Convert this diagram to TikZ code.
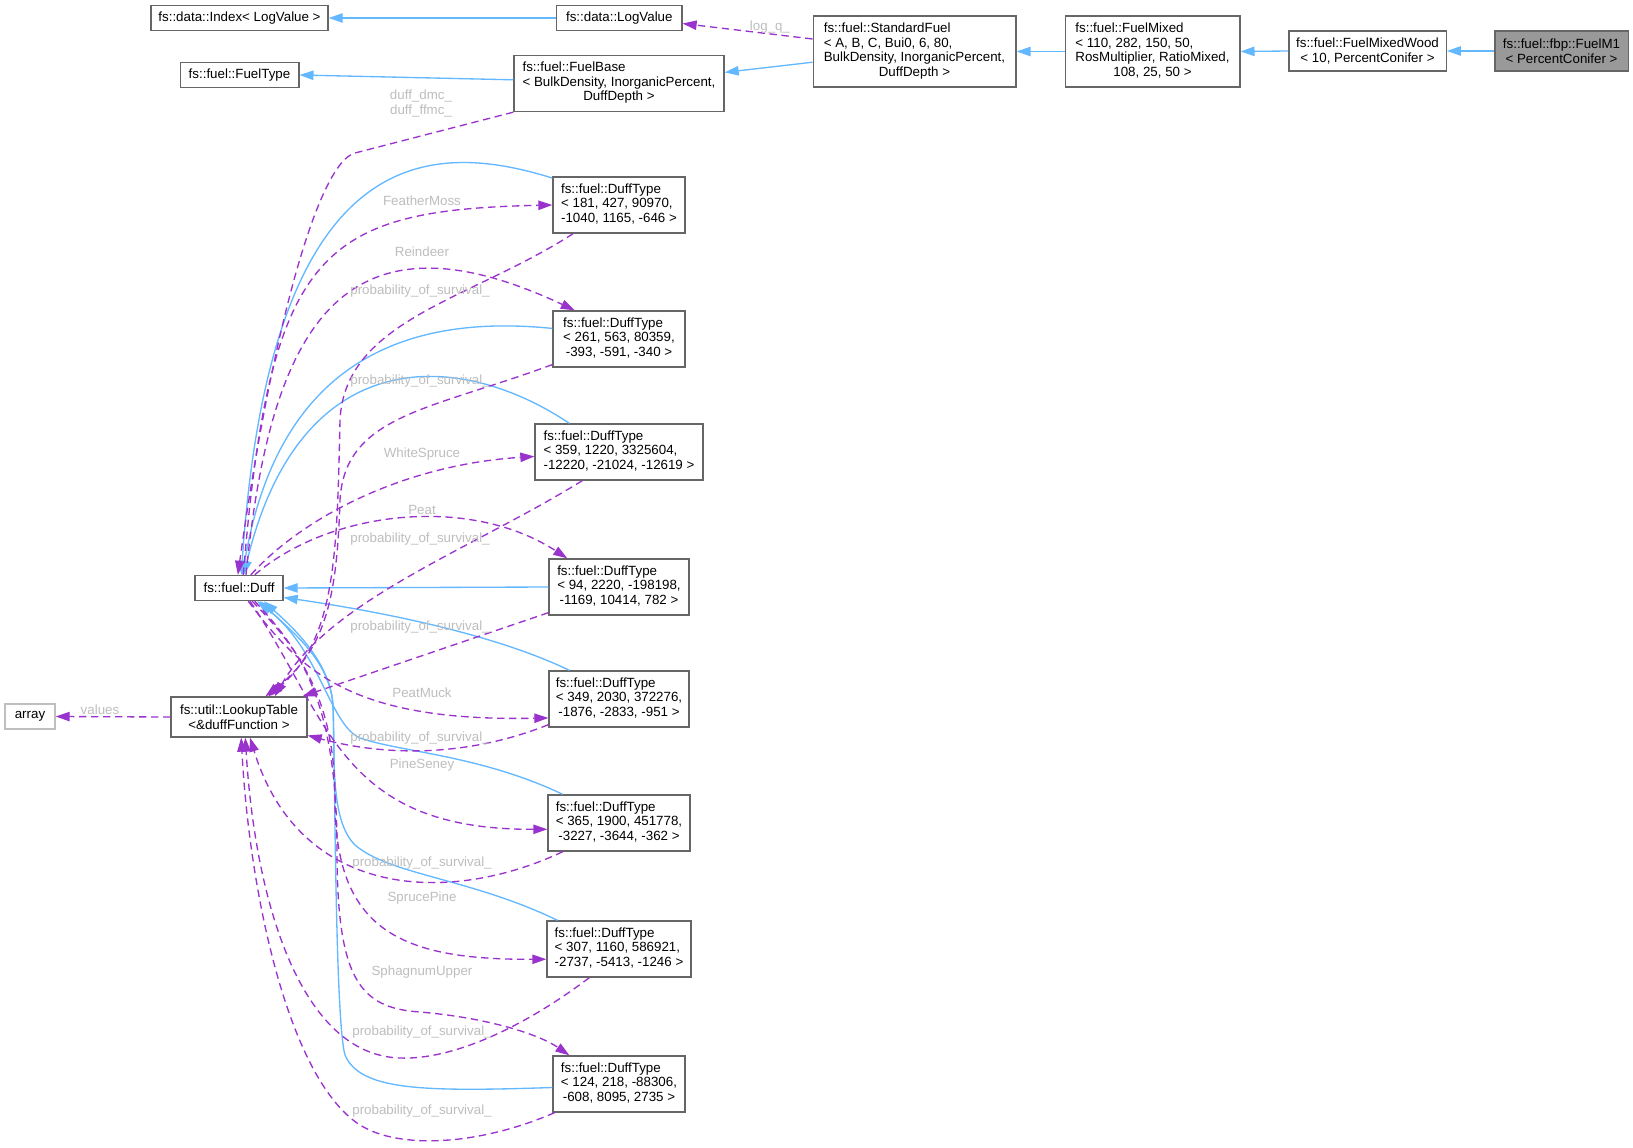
\documentclass[tikz,border=0pt]{standalone}
\usepackage{fontspec}
\setmainfont{Liberation Sans}
\usetikzlibrary{arrows.meta}

\definecolor{edgeblue}{HTML}{63B8FF}
\definecolor{edgepurple}{HTML}{9A32CD}
\definecolor{boxgrey}{HTML}{666666}
\definecolor{labelgrey}{HTML}{BEBEBE}
\definecolor{curgrey}{HTML}{999999}
\definecolor{extgrey}{HTML}{BFBFBF}

\newcommand{\classtext}[1]{\begin{tabular}{@{}l@{}}#1\end{tabular}}
\newcommand{\cln}[1]{\multicolumn{1}{@{}c@{}}{#1}}

\begin{document}
\begin{tikzpicture}[%
    x=0.75pt, y=-0.75pt,
    >={Triangle[length=10.5pt,width=7pt]},
    font=\fontsize{10}{10.9}\selectfont,
    cls/.style={draw=boxgrey, line width=1pt, fill=white, align=center,
      inner xsep=5pt, inner ysep=1pt, minimum height=18.75pt},
    h2/.style={minimum height=30pt},
    h3/.style={minimum height=42pt},
    h4/.style={minimum height=53.25pt},
    inherit/.style={->, edgeblue, line width=1pt},
    member/.style={->, edgepurple, line width=1pt, dash pattern=on 5.5pt off 3.5pt},
    lbl/.style={text=labelgrey, inner sep=0pt}
  ]
  \fill[white] (0,0) rectangle (1633,1148);
  \useasboundingbox (0,0) rectangle (1633,1148);

  % classes
  \node[cls,minimum width=132.75pt] (idx) at (239.5,18) {fs::data::Index< LogValue >};
  \node[cls,minimum width=94pt] (logv) at (619.3,18) {fs::data::LogValue};
  \node[cls,minimum width=89pt] (ftype) at (239.5,75) {fs::fuel::FuelType};
  \node[cls,h3,minimum width=157.5pt] (fbase) at (619,83.5)
    {\classtext{fs::fuel::FuelBase\\< BulkDensity, InorganicPercent,\\\cln{DuffDepth >}}};
  \node[cls,h4,minimum width=152pt] (stdf) at (914.5,51.5)
    {\classtext{fs::fuel::StandardFuel\\< A, B, C, Bui0, 6, 80,\\\cln{BulkDensity, InorganicPercent,}\\\cln{DuffDepth >}}};
  \node[cls,h4,minimum width=131pt] (fmix) at (1152.5,51.5)
    {\classtext{fs::fuel::FuelMixed\\< 110, 282, 150, 50,\\\cln{RosMultiplier, RatioMixed,}\\\cln{108, 25, 50 >}}};
  \node[cls,h2,minimum width=118pt] (fmw) at (1367.5,51) {fs::fuel::FuelMixedWood\\< 10, PercentConifer >};
  \node[cls,h2,minimum width=100pt,fill=curgrey] (fm1) at (1561.5,51) {fs::fuel::fbp::FuelM1\\< PercentConifer >};
  \node[cls,minimum width=66pt] (duff) at (239,588) {fs::fuel::Duff};
  \node[cls,h2,minimum width=102pt] (lut) at (239,717) {fs::util::LookupTable\\<\&duffFunction >};
  \node[cls,minimum width=37.5pt,draw=extgrey] (arr) at (30,716.5) {array};

  \node[cls,h3,minimum width=99pt] (dt1) at (619,205)
    {\classtext{fs::fuel::DuffType\\< 181, 427, 90970,\\\cln{-1040, 1165, -646 >}}};
  \node[cls,h3,minimum width=99pt] (dt2) at (619,339)
    {\classtext{fs::fuel::DuffType\\< 261, 563, 80359,\\\cln{-393, -591, -340 >}}};
  \node[cls,h3,minimum width=126pt] (dt3) at (619,452)
    {\classtext{fs::fuel::DuffType\\< 359, 1220, 3325604,\\\cln{-12220, -21024, -12619 >}}};
  \node[cls,h3,minimum width=105pt] (dt4) at (619,587)
    {\classtext{fs::fuel::DuffType\\< 94, 2220, -198198,\\\cln{-1169, 10414, 782 >}}};
  \node[cls,h3,minimum width=105pt] (dt5) at (619,699)
    {\classtext{fs::fuel::DuffType\\< 349, 2030, 372276,\\\cln{-1876, -2833, -951 >}}};
  \node[cls,h3,minimum width=106.5pt] (dt6) at (619,823)
    {\classtext{fs::fuel::DuffType\\< 365, 1900, 451778,\\\cln{-3227, -3644, -362 >}}};
  \node[cls,h3,minimum width=108pt] (dt7) at (619,949)
    {\classtext{fs::fuel::DuffType\\< 307, 1160, 586921,\\\cln{-2737, -5413, -1246 >}}};
  \node[cls,h3,minimum width=99pt] (dt8) at (619,1084)
    {\classtext{fs::fuel::DuffType\\< 124, 218, -88306,\\\cln{-608, 8095, 2735 >}}};

  % inheritance
  \draw[inherit] (logv.west) -- (idx.east);
  \draw[inherit] (fbase.178) -- (ftype.east);
  \draw[inherit] (stdf.186) -- (fbase.6);
  \draw[inherit] (fmix.west) -- (stdf.east);
  \draw[inherit] (fmw.west) -- (fmix.east);
  \draw[inherit] (fm1.west) -- (fmw.east);
  \draw[inherit] (dt1.158) .. controls (430,140) and (270,140) .. (duff.80);
  \draw[inherit] (dt2.171) .. controls (420,315) and (280,350) .. (duff.75);
  \draw[inherit] (dt3.150) .. controls (460,350) and (300,340) .. (duff.70);
  \draw[inherit] (dt4.west) -- (duff.east);
  \draw[inherit] (dt5.150) .. controls (490,632) and (370,610) .. (duff.-12);
  \draw[inherit] (dt6.153) .. controls (480,755) and (400,752) .. (360,738)
    .. controls (330,725) and (320,650) .. (duff.-36);
  \draw[inherit] (dt7.155) .. controls (470,878) and (390,875) .. (355,845)
    .. controls (330,820) and (335,760) .. (333,705)
    .. controls (330,660) and (290,630) .. (duff.-32);
  \draw[inherit] (dt8.183) .. controls (420,1092) and (360,1090) .. (345,1055)
    .. controls (335,1020) and (335,760) .. (333,705)
    .. controls (330,660) and (290,625) .. (duff.-28);

  % members
  \draw[member] (stdf.173) -- (logv.-5);
  \draw[member] (lut.west) -- (arr.east);
  \draw[member] (fbase.south west) -- (355,153) .. controls (318,163) and (272,330) .. (duff.95);
  \draw[member] (duff.72) .. controls (270,250) and (320,210) .. (dt1.west);
  \draw[member] (duff.62) .. controls (270,330) and (340,200) .. (dt2.147);
  \draw[member] (duff.48) .. controls (300,520) and (400,465) .. (dt3.183);
  \draw[member] (duff.40) .. controls (330,510) and (470,495) .. (dt4.151);
  \draw[member] (duff.-55) .. controls (300,670) and (350,722) .. (dt5.195);
  \draw[member] (duff.-50) .. controls (330,720) and (340,830) .. (dt6.185);
  \draw[member] (duff.-45) .. controls (300,650) and (335,700) .. (335,800)
    .. controls (335,930) and (400,960) .. (dt7.188);
  \draw[member] (duff.-40) .. controls (300,650) and (337,700) .. (337,850)
    .. controls (337,980) and (360,1008) .. (420,1012)
    .. controls (490,1018) and (540,1035) .. (dt8.150);

  \draw[member] (dt1.212) .. controls (470,300) and (345,320) .. (340,420)
    .. controls (337,560) and (335,640) .. (lut.35);
  \draw[member] (dt2.201) .. controls (430,410) and (345,415) .. (340,500)
    .. controls (337,600) and (325,650) .. (lut.38);
  \draw[member] (dt3.218) .. controls (470,550) and (330,600) .. (lut.30);
  \draw[member] (dt4.200) -- (lut.18);
  \draw[member] (dt5.200) .. controls (480,752) and (400,760) .. (lut.-15);
  \draw[member] (dt6.207) .. controls (450,905) and (300,900) .. (lut.-62);
  \draw[member] (dt7.224) .. controls (520,1030) and (450,1060) .. (400,1058)
    .. controls (300,1055) and (255,900) .. (lut.-73);
  \draw[member] (dt8.204) .. controls (480,1145) and (400,1150) .. (360,1125)
    .. controls (290,1080) and (250,900) .. (lut.-84);

  % edge labels
  \node[lbl] (llogq) at (770,27) {log\_q\_};
  \node[lbl] (lvalues) at (100,710) {values};
  \node[lbl,align=center] (lduff) at (421,103.5) {duff\_dmc\_\\duff\_ffmc\_};
  \node[lbl] (lfeather) at (422,201) {FeatherMoss};
  \node[lbl] (lreindeer) at (422,252) {Reindeer};
  \node[lbl] (lprob1) at (420,291) {probability\_of\_survival\_};
  \node[lbl] (lprob2) at (420,381) {probability\_of\_survival\_};
  \node[lbl] (lwhite) at (422,454) {WhiteSpruce};
  \node[lbl] (lpeat) at (422,510) {Peat};
  \node[lbl] (lprob3) at (420,539) {probability\_of\_survival\_};
  \node[lbl] (lprob4) at (420,627) {probability\_of\_survival\_};
  \node[lbl] (lmuck) at (422,693) {PeatMuck};
  \node[lbl] (lprob5) at (420,738) {probability\_of\_survival\_};
  \node[lbl] (lseney) at (422,765) {PineSeney};
  \node[lbl] (lprob6) at (422,863) {probability\_of\_survival\_};
  \node[lbl] (lspruce) at (422,898) {SprucePine};
  \node[lbl] (lsphag) at (422,972) {SphagnumUpper};
  \node[lbl] (lprob7) at (422,1032) {probability\_of\_survival\_};
  \node[lbl] (lprob8) at (422,1111) {probability\_of\_survival\_};
\end{tikzpicture}
\end{document}
